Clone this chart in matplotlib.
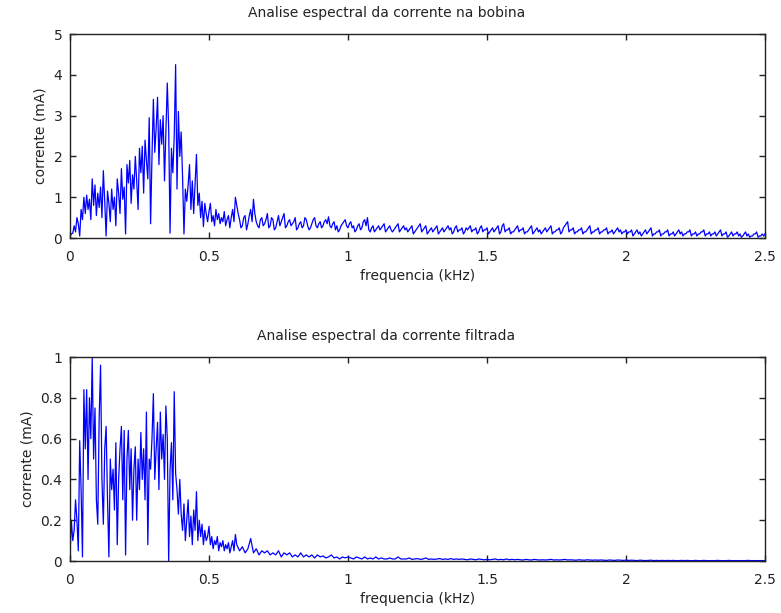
import numpy as np
import matplotlib
matplotlib.use("Agg")
import matplotlib.pyplot as plt
from matplotlib.ticker import FuncFormatter

# frequency grids (kHz)
freq_top = np.round(np.arange(0, 2.5001, 0.005), 3)
freq_bot = np.concatenate([np.round(np.arange(0, 0.6001, 0.005), 3),
                           np.round(np.arange(0.61, 2.5001, 0.01), 3)])

# corrente na bobina (mA), 0 .. 0.6 kHz
bobina_low = [
    0.05, 0.10, 0.12, 0.30, 0.15, 0.50, 0.35, 0.05, 0.70, 0.45,
    1.00, 0.60, 1.05, 0.70, 0.95, 0.45, 1.45, 0.80, 1.30, 0.55,
    1.10, 0.75, 1.25, 0.50, 1.65, 0.90, 0.05, 1.15, 0.85, 0.40,
    1.20, 0.70, 1.00, 0.30, 1.45, 1.10, 0.60, 1.70, 0.95, 1.25,
    0.10, 1.80, 1.35, 1.90, 0.85, 1.55, 1.20, 2.00, 1.40, 0.70,
    2.20, 1.60, 2.25, 1.10, 2.40, 1.90, 1.45, 2.95, 0.35, 2.00,
    3.40, 2.10, 2.70, 3.45, 1.80, 2.90, 2.30, 3.00, 1.40, 2.60,
    3.80, 2.70, 0.12, 2.20, 1.60, 2.50, 4.25, 1.20, 3.10, 2.00,
    2.60, 1.50, 0.10, 1.20, 0.90, 1.30, 1.80, 0.70, 1.40, 0.60,
    1.30, 2.05, 0.80, 1.10, 0.50, 0.90, 0.28, 0.85, 0.60, 0.40,
    0.65, 0.85, 0.40, 0.55, 0.30, 0.70, 0.45, 0.60, 0.35, 0.50,
    0.40, 0.65, 0.30, 0.45, 0.55, 0.25, 0.50, 0.70, 0.40, 1.00,
    0.80,
]
# 0.605 .. 2.5 kHz
bobina_high = [
    0.60, 0.45, 0.25, 0.30, 0.50, 0.55, 0.20, 0.35, 0.55, 0.70, 0.40, 0.95, 0.60, 0.40, 0.30, 0.25, 0.45, 0.50, 0.30, 0.35,
    0.45, 0.60, 0.25, 0.30, 0.50, 0.45, 0.20, 0.25, 0.40, 0.55, 0.30, 0.40, 0.50, 0.60, 0.25, 0.30, 0.40, 0.45, 0.30, 0.35,
    0.40, 0.50, 0.20, 0.25, 0.35, 0.40, 0.25, 0.30, 0.50, 0.45, 0.30, 0.20, 0.25, 0.35, 0.45, 0.50, 0.30, 0.25, 0.35, 0.40,
    0.25, 0.30, 0.40, 0.45, 0.35, 0.52, 0.30, 0.25, 0.35, 0.40, 0.20, 0.30, 0.15, 0.20, 0.30, 0.35, 0.40, 0.45, 0.30, 0.25,
    0.35, 0.40, 0.25, 0.30, 0.15, 0.20, 0.30, 0.35, 0.20, 0.25, 0.40, 0.45, 0.30, 0.50, 0.20, 0.15, 0.25, 0.30, 0.15, 0.20,
    0.25, 0.30, 0.20, 0.25, 0.30, 0.35, 0.15, 0.20, 0.25, 0.30, 0.20, 0.15, 0.20, 0.25, 0.30, 0.35, 0.15, 0.20, 0.25, 0.30,
    0.20, 0.25, 0.15, 0.20, 0.25, 0.30, 0.10, 0.15, 0.20, 0.25, 0.30, 0.35, 0.15, 0.20, 0.25, 0.30, 0.10, 0.15, 0.20, 0.25,
    0.15, 0.20, 0.25, 0.30, 0.10, 0.15, 0.20, 0.25, 0.15, 0.20, 0.25, 0.30, 0.20, 0.25, 0.10, 0.15, 0.25, 0.30, 0.15, 0.20,
    0.20, 0.25, 0.10, 0.15, 0.25, 0.20, 0.25, 0.30, 0.15, 0.20, 0.20, 0.25, 0.10, 0.15, 0.25, 0.30, 0.15, 0.20, 0.20, 0.25,
    0.10, 0.15, 0.20, 0.25, 0.15, 0.20, 0.25, 0.30, 0.10, 0.15, 0.30, 0.35, 0.15, 0.20, 0.20, 0.25, 0.10, 0.15, 0.15, 0.20,
    0.25, 0.30, 0.15, 0.20, 0.20, 0.25, 0.10, 0.15, 0.15, 0.20, 0.25, 0.30, 0.10, 0.15, 0.20, 0.25, 0.15, 0.20, 0.10, 0.15,
    0.20, 0.25, 0.15, 0.20, 0.25, 0.30, 0.10, 0.15, 0.15, 0.20, 0.20, 0.25, 0.10, 0.15, 0.25, 0.30, 0.35, 0.40, 0.15, 0.20,
    0.20, 0.25, 0.10, 0.15, 0.15, 0.20, 0.20, 0.25, 0.10, 0.15, 0.15, 0.20, 0.25, 0.30, 0.10, 0.15, 0.15, 0.20, 0.20, 0.25,
    0.10, 0.15, 0.15, 0.20, 0.20, 0.25, 0.10, 0.15, 0.15, 0.20, 0.10, 0.15, 0.20, 0.25, 0.15, 0.20, 0.10, 0.15, 0.15, 0.20,
    0.10, 0.15, 0.15, 0.20, 0.05, 0.10, 0.15, 0.20, 0.10, 0.15, 0.05, 0.10, 0.15, 0.20, 0.10, 0.15, 0.20, 0.25, 0.05, 0.10,
    0.10, 0.15, 0.15, 0.20, 0.05, 0.10, 0.10, 0.15, 0.15, 0.20, 0.05, 0.10, 0.10, 0.15, 0.05, 0.10, 0.15, 0.20, 0.10, 0.15,
    0.05, 0.10, 0.10, 0.15, 0.15, 0.20, 0.05, 0.10, 0.10, 0.15, 0.05, 0.10, 0.10, 0.15, 0.15, 0.20, 0.05, 0.10, 0.10, 0.15,
    0.05, 0.10, 0.10, 0.15, 0.05, 0.10, 0.15, 0.20, 0.05, 0.10, 0.10, 0.15, 0.02, 0.05, 0.10, 0.15, 0.05, 0.10, 0.10, 0.15,
    0.05, 0.10, 0.02, 0.05, 0.10, 0.15, 0.05, 0.10, 0.02, 0.05, 0.05, 0.10, 0.10, 0.15, 0.02, 0.05, 0.05, 0.10, 0.05, 0.10,
]

# corrente filtrada (mA), 0 .. 0.6 kHz
filtrada_low = [
    0.02, 0.20, 0.10, 0.15, 0.30, 0.20, 0.05, 0.59, 0.35, 0.02,
    0.84, 0.55, 0.84, 0.40, 0.80, 0.60, 1.00, 0.50, 0.75, 0.30,
    0.18, 0.70, 0.96, 0.40, 0.18, 0.55, 0.66, 0.30, 0.02, 0.50,
    0.35, 0.45, 0.25, 0.58, 0.08, 0.40, 0.55, 0.66, 0.30, 0.64,
    0.03, 0.50, 0.64, 0.35, 0.55, 0.20, 0.45, 0.56, 0.20, 0.50,
    0.35, 0.63, 0.40, 0.55, 0.30, 0.73, 0.08, 0.50, 0.45, 0.60,
    0.82, 0.40, 0.55, 0.68, 0.35, 0.73, 0.50, 0.62, 0.40, 0.76,
    0.60, 0.00, 0.45, 0.58, 0.30, 0.83, 0.43, 0.35, 0.23, 0.40,
    0.23, 0.15, 0.28, 0.10, 0.20, 0.30, 0.12, 0.22, 0.08, 0.25,
    0.15, 0.34, 0.10, 0.20, 0.12, 0.18, 0.08, 0.15, 0.10, 0.12,
    0.17, 0.08, 0.12, 0.06, 0.10, 0.08, 0.12, 0.05, 0.09, 0.07,
    0.10, 0.05, 0.08, 0.06, 0.09, 0.04, 0.07, 0.10, 0.05, 0.13,
    0.08,
]
# 0.61 .. 2.5 kHz
filtrada_high = [
    0.05, 0.07, 0.04, 0.06, 0.11, 0.04, 0.06, 0.03, 0.05, 0.04,
    0.05, 0.03, 0.04, 0.03, 0.05, 0.02, 0.04, 0.03, 0.04, 0.02,
    0.03, 0.02, 0.04, 0.02, 0.03, 0.02, 0.03, 0.015, 0.03, 0.02,
    0.025, 0.015, 0.02, 0.03, 0.015, 0.02, 0.01, 0.02, 0.015, 0.02,
    0.015, 0.01, 0.02, 0.015, 0.01, 0.02, 0.01, 0.015, 0.01, 0.02,
    0.01, 0.015, 0.01, 0.01, 0.015, 0.01, 0.01, 0.02, 0.01, 0.01,
    0.01, 0.015, 0.008, 0.01, 0.012, 0.008, 0.01, 0.015, 0.008, 0.01,
    0.008, 0.01, 0.012, 0.008, 0.01, 0.008, 0.012, 0.008, 0.01, 0.008,
    0.01, 0.008, 0.006, 0.01, 0.008, 0.006, 0.01, 0.008, 0.006, 0.008,
    0.006, 0.008, 0.01, 0.006, 0.008, 0.006, 0.01, 0.006, 0.008, 0.006,
    0.008, 0.006, 0.005, 0.008, 0.006, 0.005, 0.008, 0.006, 0.005, 0.006,
    0.005, 0.006, 0.008, 0.005, 0.006, 0.005, 0.006, 0.008, 0.005, 0.006,
    0.005, 0.004, 0.006, 0.005, 0.004, 0.006, 0.005, 0.004, 0.005, 0.004,
    0.005, 0.004, 0.003, 0.005, 0.004, 0.003, 0.005, 0.004, 0.003, 0.004,
    0.003, 0.004, 0.003, 0.002, 0.004, 0.003, 0.002, 0.003, 0.004, 0.002,
    0.003, 0.002, 0.003, 0.002, 0.003, 0.002, 0.003, 0.002, 0.002, 0.003,
    0.002, 0.003, 0.002, 0.002, 0.003, 0.002, 0.002, 0.003, 0.002, 0.002,
    0.002, 0.002, 0.003, 0.002, 0.002, 0.002, 0.003, 0.002, 0.002, 0.002,
    0.002, 0.002, 0.002, 0.003, 0.002, 0.002, 0.002, 0.002, 0.002, 0.002,
]

bobina = np.array(bobina_low + bobina_high)
filtrada = np.array(filtrada_low + filtrada_high)

xticks = [0, 0.5, 1, 1.5, 2, 2.5]
yticks_top = [0, 1, 2, 3, 4, 5]
yticks_bot = [0, 0.2, 0.4, 0.6, 0.8, 1]

plt.rcParams['font.family'] = 'DejaVu Sans'
plt.rcParams['font.size'] = 10

fig = plt.figure(figsize=(7.81, 6.13), dpi=100)
ax1 = fig.add_axes([0.0896, 0.6117, 0.8899, 0.3328])
ax2 = fig.add_axes([0.0896, 0.0848, 0.8899, 0.3328])

g = FuncFormatter(lambda v, p: '%g' % v)

panels = [
    (ax1, freq_top, bobina, yticks_top, 5, 'Analise espectral da corrente na bobina'),
    (ax2, freq_bot, filtrada, yticks_bot, 1, 'Analise espectral da corrente filtrada'),
]
for ax, x, y, yt, ymax, title in panels:
    ax.plot(x, y, color='#0000ff', linewidth=0.9)
    ax.set_xlim(0, 2.5)
    ax.set_ylim(0, ymax)
    ax.set_xticks(xticks)
    ax.set_yticks(yt)
    ax.xaxis.set_major_formatter(g)
    ax.yaxis.set_major_formatter(g)
    ax.tick_params(direction='in', top=True, right=True, length=4, width=1,
                   labelsize=10, colors='#222222')
    ax.tick_params(axis='x', pad=8.5)
    ax.tick_params(axis='y', pad=5.5)
    for s in ax.spines.values():
        s.set_linewidth(1)
        s.set_color('#222222')
    ax.set_title(title, fontsize=10, pad=12, x=0.455, color='#222222')
    ax.set_xlabel('frequencia (kHz)', labelpad=4, color='#222222')
    ax.set_ylabel('corrente (mA)', labelpad=4, color='#222222')

fig.savefig('out.png', dpi=100)
